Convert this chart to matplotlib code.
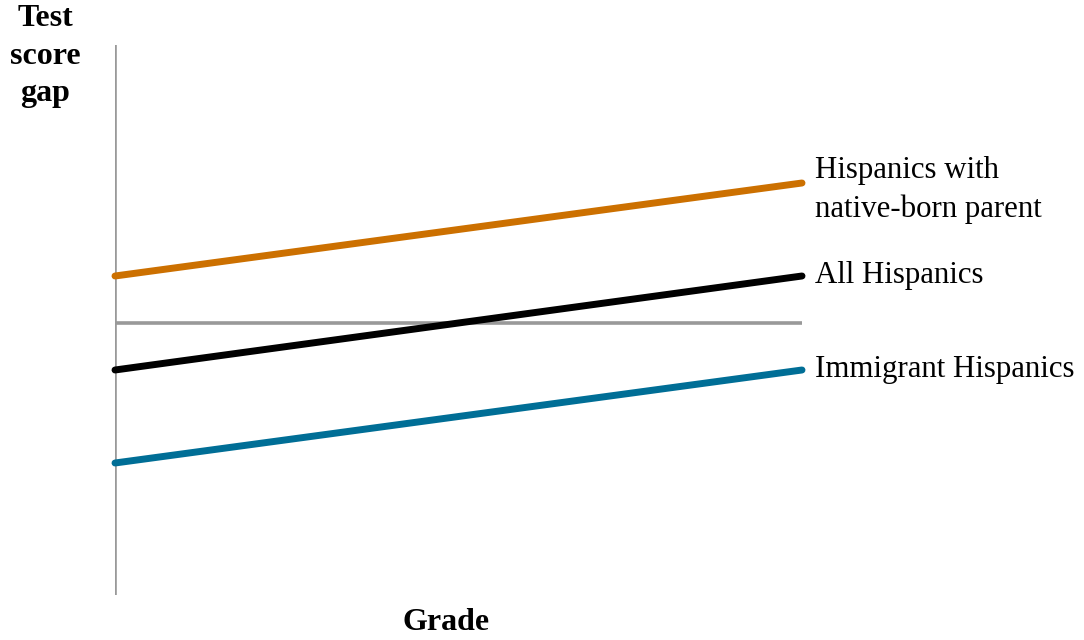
import matplotlib
matplotlib.use("Agg")
import matplotlib.pyplot as plt

# schematic: test score gap vs grade (arbitrary units, 0 = no gap)
grades = [0, 1]
series_names = ["Hispanics with\nnative-born parent", "All Hispanics", "Immigrant Hispanics"]
series_vals = [[0.47, 1.40], [-0.47, 0.47], [-1.40, -0.47]]
series_colors = ["#CC7000", "#000000", "#006E96"]

plt.rcParams["font.family"] = ["Liberation Serif", "DejaVu Serif"]

fig = plt.figure(figsize=(10.84, 6.4), dpi=100)
ax = fig.add_axes([115 / 1084, 45 / 640, 687 / 1084, 550 / 640])
ax.set_xlim(0, 1)
ax.set_ylim(-2.72, 2.78)
ax.axis("off")

# axes lines
ax.plot([0, 0], [-2.72, 2.78], color="#999999", lw=2.6, solid_capstyle="butt", zorder=1)
ax.plot([0, 1], [0, 0], color="#999999", lw=2.6, solid_capstyle="butt", zorder=1)

for name, vals, c in zip(series_names, series_vals, series_colors):
    ax.plot(grades, vals, color=c, lw=5, solid_capstyle="round", zorder=3, clip_on=False)
    dy = -0.07 if "\n" in name else 0.0
    ax.text(1.019, vals[-1] + dy, name, fontsize=22.2, va="center", ha="left",
            linespacing=1.38, clip_on=False)

fig.text(45 / 1084, 1 - 56 / 640, "Test\nscore\ngap", fontsize=23, fontweight="bold",
         ha="center", va="center", linespacing=1.38)
fig.text(446 / 1084, 1 - 622 / 640, "Grade", fontsize=23, fontweight="bold",
         ha="center", va="center")

fig.savefig("out.png", dpi=100)
